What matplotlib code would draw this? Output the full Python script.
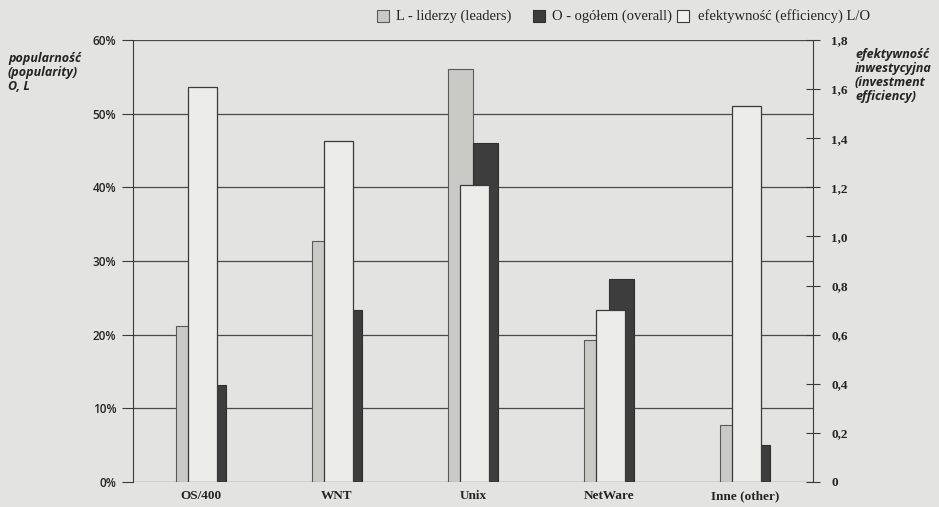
import numpy as np
import matplotlib.pyplot as plt
from matplotlib.patches import Rectangle

# Operating-system popularity among leaders and overall, with investment efficiency L/O
systems = ["OS/400", "WNT", "Unix", "NetWare", "Inne (other)"]
leaders = [21.2, 32.7, 56.0, 19.3, 7.8]      # % popularity among leaders
overall = [13.2, 23.3, 46.0, 27.6, 5.0]      # % popularity overall
efficiency = [1.61, 1.39, 1.21, 0.70, 1.53]  # L/O ratio

pct_ticks = [0, 10, 20, 30, 40, 50, 60]
pct_labels = ["0%", "10%", "20%", "30%", "40%", "50%", "60%"]
eff_ticks = [0, 0.2, 0.4, 0.6, 0.8, 1.0, 1.2, 1.4, 1.6, 1.8]
eff_labels = ["0", "0,2", "0,4", "0,6", "0,8", "1,0", "1,2", "1,4", "1,6", "1,8"]

paper = "#e3e3e1"
ink = "#242424"
light = "#c9c9c6"
dark = "#3d3d3d"
white = "#ececea"

W, H = 939, 507
fig = plt.figure(figsize=(W / 100, H / 100), dpi=100, facecolor=paper)
ax = fig.add_axes([133 / W, 1 - 482 / H, (813 - 133) / W, (482 - 40) / H])
ax.set_facecolor(paper)

x = np.arange(len(systems))
bw = 0.184
ew = 0.213

ax.set_ylim(0, 60)
ax.set_xlim(-0.5, len(systems) - 0.5)
for t in pct_ticks:
    ax.axhline(t, color="#4a4a4a", lw=0.9, zorder=0)

ax.bar(x - bw / 2, leaders, width=bw, color=light, edgecolor="#5a5a5a", lw=0.8, zorder=2)
ax.bar(x + bw / 2, overall, width=bw, color=dark, edgecolor="#303030", lw=0.8, zorder=2)

ax2 = ax.twinx()
ax2.set_ylim(0, 1.8)
ax2.bar(x + 0.01, efficiency, width=ew, color=white, edgecolor="#3a3a3a", lw=0.9, zorder=3)

for s in ["top", "bottom"]:
    ax.spines[s].set_visible(False)
    ax2.spines[s].set_visible(False)
ax2.spines["left"].set_visible(False)
ax.spines["right"].set_visible(False)
ax.spines["left"].set_color("#3a3a3a")
ax2.spines["right"].set_color("#3a3a3a")

ax.set_yticks(pct_ticks)
ax.set_yticklabels(pct_labels, fontfamily="Open Sans", fontsize=8.5,
                   fontweight="semibold", color=ink)
ax.tick_params(axis="y", direction="out", length=8, width=0.8, color="#3a3a3a", pad=4)

ax2.set_yticks(eff_ticks)
ax2.set_yticklabels(eff_labels, fontfamily="Liberation Serif", fontsize=9.5,
                    fontweight="bold", color=ink)
ax2.tick_params(axis="y", direction="inout", length=10, width=0.8, color="#3a3a3a", pad=8)

ax.set_xticks(x)
ax.set_xticklabels(systems, fontfamily="Liberation Serif", fontsize=9.5,
                   fontweight="bold", color=ink)
ax.tick_params(axis="x", length=0, pad=6)

# Axis titles
fig.text(8 / W, 1 - 52 / H, "popularność\n(popularity)\nO, L",
         fontfamily="Open Sans", fontsize=9, fontweight="bold", fontstyle="italic",
         color=ink, ha="left", va="top", linespacing=1.1)
fig.text(855 / W, 1 - 48 / H, "efektywność\ninwestycyjna\n(investment\nefficiency)",
         fontfamily="Open Sans", fontsize=9, fontweight="bold", fontstyle="italic",
         color=ink, ha="left", va="top", linespacing=1.1)

# Legend along the top
items = [
    (377, light, "#5a5a5a", "L - liderzy (leaders)", 396),
    (533, dark, "#303030", "O - ogółem (overall)", 552),
    (677, "#f0f0ee", "#3a3a3a", "efektywność (efficiency) L/O", 698),
]
for sx, fc, ec, label, tx in items:
    fig.add_artist(Rectangle((sx / W, 1 - 22 / H), 12 / W, 12 / H,
                             transform=fig.transFigure, facecolor=fc,
                             edgecolor=ec, lw=0.8))
    fig.text(tx / W, 1 - 16 / H, label, fontfamily="Liberation Serif",
             fontsize=10.5, color=ink, ha="left", va="center")

fig.savefig("out.png", dpi=100, facecolor=paper)
